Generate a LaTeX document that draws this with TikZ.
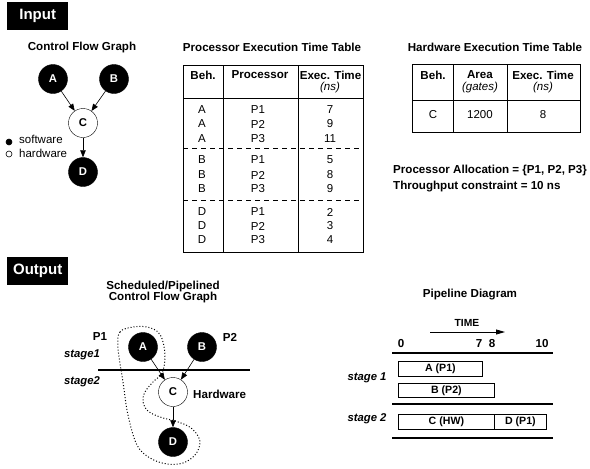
\documentclass[tikz,border=0pt]{standalone}
\usepackage{fontspec}
\setmainfont{Liberation Sans}
\usetikzlibrary{arrows.meta}
\begin{document}
\begin{tikzpicture}[x=1pt,y=-1pt,
  every node/.style={inner sep=0pt,font=\fontsize{11.5}{13}\selectfont},
  bf/.style={font=\bfseries\fontsize{11.6}{13}\selectfont},
  bfit/.style={font=\bfseries\itshape\fontsize{11.3}{13}\selectfont},
  banner/.style={fill=black,text=white,font=\bfseries\fontsize{15}{17}\selectfont,minimum width=61pt,minimum height=28pt,anchor=north west},
  sw/.style={circle,fill=black,draw=black,minimum size=29pt,text=white,font=\bfseries\fontsize{11.3}{13}\selectfont},
  hw/.style={circle,fill=white,draw=black,minimum size=29pt,font=\bfseries\fontsize{11.3}{13}\selectfont},
  arr/.style={-{Triangle[length=7pt,width=5.5pt]},line width=0.6pt},
  grid/.style={line width=0.8pt},
  stageline/.style={line width=2.4pt},
  pbox/.style={draw,line width=0.8pt,anchor=north west,font=\bfseries\fontsize{10.6}{12}\selectfont},
  leg/.style={circle,minimum size=6pt,draw=black,line width=0.6pt}
]
\useasboundingbox (0,0) rectangle (590,469);

% ---------------- Input ----------------
\node[banner] (inbanner) at (7,2) {Input};

% Control flow graph
\node[bf] (cfgtitle) at (82,47) {Control Flow Graph};
\node[sw] (A) at (53,79) {A};
\node[sw] (B) at (114,79) {B};
\node[hw] (C) at (83,123) {C};
\node[sw] (D) at (83,172) {D};
\draw[arr] (A) -- (C);
\draw[arr] (B) -- (C);
\draw[arr] (C) -- (D);
\node[leg,fill=black] (swdot) at (9,142) {};
\node[anchor=west] (swtxt) at (19,139) {software};
\node[leg,fill=white] (hwdot) at (9,154) {};
\node[anchor=west] (hwtxt) at (19,153) {hardware};

% Processor execution time table
\node[bf] (pttitle) at (272,47) {Processor Execution Time Table};
\draw[grid] (183,65) rectangle (363,252);
\draw[grid] (183,98) -- (363,98);
\draw[grid] (223,65) -- (223,252);
\draw[grid] (298,65) -- (298,252);
\draw[grid,dash pattern=on 5pt off 4pt] (183,148) -- (363,148);
\draw[grid,dash pattern=on 5pt off 4pt] (183,200) -- (363,200);
\node[bf] (ph1) at (203,75) {Beh.};
\node[bf] (ph2) at (260,75) {Processor};
\node[bf] (ph3) at (330.5,75) {Exec. Time};
\node (ph3b) at (330,88) {\itshape (ns)};
\foreach \b/\p/\t/\y [count=\i] in {A/P1/7/110,A/P2/9/124,A/P3/11/139,B/P1/5/160,B/P2/8/175,B/P3/9/189,D/P1/2/212,D/P2/3/226,D/P3/4/240}{
  \node (pb\i) at (202,\y) {\b};
  \node (pp\i) at (258,\y) {\p};
  \node (pe\i) at (330,\y) {\t};
}

% Hardware execution time table
\node[bf] (hwtitle) at (495,47) {Hardware Execution Time Table};
\draw[grid] (412,64) rectangle (580,132);
\draw[grid] (412,100) -- (580,100);
\draw[grid] (453,64) -- (453,132);
\draw[grid] (507,64) -- (507,132);
\node[bf] (hh1) at (433,75) {Beh.};
\node[bf] (hh2) at (480,75) {Area};
\node (hh2b) at (480,88) {\itshape (gates)};
\node[bf] (hh3) at (543,75) {Exec. Time};
\node (hh3b) at (543,88) {\itshape (ns)};
\node (hc1) at (433,115) {C};
\node (hc2) at (480,115) {1200};
\node (hc3) at (543,115) {8};

\node[bf,anchor=west] (alloc) at (393,170) {Processor Allocation = \{P1, P2, P3\}};
\node[bf,anchor=west] (thr) at (393,187) {Throughput constraint = 10 ns};

% ---------------- Output ----------------
\node[banner] (outbanner) at (7,257) {Output};

\node[bf,align=center,font=\bfseries\fontsize{11.6}{9.8}\selectfont] (otitle) at (163,292) {Scheduled/Pipelined\\Control Flow Graph};

\draw[dotted,line width=1pt] plot[smooth cycle,tension=0.6] coordinates {(133,327) (120,332) (118,348) (123,382) (128,415) (137,445) (150,458) (167,464) (183,463) (195,455) (200,443) (196,433) (188,426) (175,421) (160,417) (148,411) (143,402) (145,392) (153,382) (162,373) (165,358) (163,342) (158,332) (147,327)};

\node[sw] (A2) at (143,347) {A};
\node[sw] (B2) at (202,347) {B};
\node[hw] (C2) at (173,392) {C};
\node[sw] (D2) at (173,442) {D};
\coordinate (sl) at (98,370);
\coordinate (sr) at (250,370);
\draw[stageline] (sl) -- (sr);
\draw[arr] (A2) -- (C2);
\draw[arr] (B2) -- (C2);
\draw[arr] (C2) -- (D2);
\node[bf] (p1lbl) at (100,337) {P1};
\node[bf] (p2lbl) at (230,337) {P2};
\node[bfit] (st1) at (82,355) {stage1};
\node[bfit] (st2) at (82,382) {stage2};
\node[bf,anchor=west] (hwlbl) at (193,394) {Hardware};

% Pipeline diagram
\node[bf] (pdtitle) at (470,295) {Pipeline Diagram};
\node[bf,font=\bfseries\fontsize{10.3}{12}\selectfont] (time) at (467,323) {TIME};
\coordinate (ts) at (430,332);
\coordinate (te) at (505,332);
\draw[-{Triangle[length=9pt,width=5pt]},line width=0.8pt] (ts) -- (te);
\node[bf] (t0) at (401,344) {0};
\node[bf] (t7) at (479,344) {7};
\node[bf] (t8) at (492,344) {8};
\node[bf] (t10) at (542,344) {10};
\coordinate (l1a) at (392,353); \coordinate (l1b) at (553,353);
\coordinate (l2a) at (392,404); \coordinate (l2b) at (553,404);
\coordinate (l3a) at (392,438); \coordinate (l3b) at (553,438);
\draw[stageline] (l1a) -- (l1b);
\draw[stageline] (l2a) -- (l2b);
\draw[stageline] (l3a) -- (l3b);
\node[pbox,minimum width=84pt,minimum height=15pt] (pa) at (398,361) {A (P1)};
\node[pbox,minimum width=96pt,minimum height=14pt] (pbb) at (398,383) {B (P2)};
\node[pbox,minimum width=96pt,minimum height=15pt] (pc) at (398,414) {C (HW)};
\node[pbox,minimum width=52pt,minimum height=15pt] (pd) at (494,414) {D (P1)};
\node[bfit] (ps1) at (367,378) {stage 1};
\node[bfit] (ps2) at (367,419) {stage 2};
\end{tikzpicture}
\end{document}
